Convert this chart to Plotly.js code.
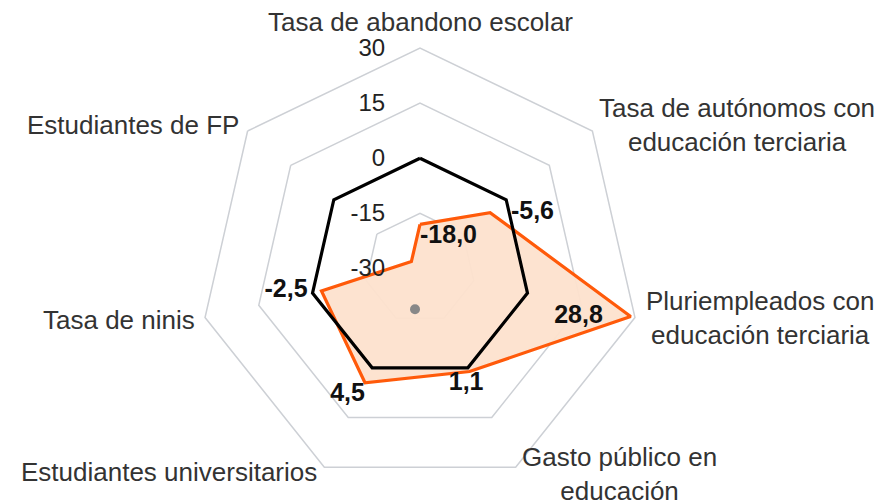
<!DOCTYPE html>
<html>
<head>
<meta charset="utf-8">
<script src="https://cdn.plot.ly/plotly-3.0.1.min.js"></script>
<style>html,body{margin:0;padding:0;background:#fff;}#chart{width:889px;height:500px;}</style>
</head>
<body>
<div id="chart"></div>
<script>
// ---- data ----
var categories = [
  'Tasa de abandono escolar',
  'Tasa de autónomos con<br>educación terciaria',
  'Pluriempleados con<br>educación terciaria',
  'Gasto público en<br>educación',
  'Estudiantes universitarios',
  'Tasa de ninis',
  'Estudiantes de FP'
];
var values = [-18.0, -5.6, 28.8, 1.1, 4.5, -2.5, -27.0];
var valueLabels = ['-18,0', '-5,6', '28,8', '1,1', '4,5', '-2,5', ''];
var reference = [0, 0, 0, 0, 0, 0, 0];
var radialTicks = [-30, -15, 0, 15, 30];
var radialTickText = ['-30', '-15', '0', '15', '30'];
var RMIN = -30, RMAX = 30;

// ---- style ----
var FONT = 'Liberation Sans, Arial, Helvetica, sans-serif';
var GRID = '#cdd0d5';
var W = 889, H = 500;
var M = { l: 0, r: 49, t: 48, b: 11 };
var textPos = ['bottom right', 'middle right', 'middle left', 'bottom center', 'bottom left', 'middle left', 'top center'];
var NB = '\u00a0';
var padLeft = [0, 3, 0, 0, 0, 0, 0];
var padRight = [0, 0, 4, 1, 0, 2, 0];
// category label placement relative to the outer vertex (pixels)
var catDx = [0, 5, 9, 4, -5, -8, -7];
var catDy = [-26, -6, 0, 7, 5, 2, -6];
var catAnchor = ['center', 'left', 'left', 'left', 'right', 'right', 'right'];

// radial axis is offset so that it starts at zero (avoids hidden texts with negative radii)
function toR(v) { return v - RMIN; }
function close(a) { return a.concat([a[0]]); }
function rep(s, n) { var o = ''; for (var i = 0; i < n; i++) o += s; return o; }
var labelText = valueLabels.map(function (t, i) { return t ? rep(NB, padLeft[i]) + t + rep(NB, padRight[i]) : ''; });

var traces = [
  {
    type: 'scatterpolar',
    mode: 'lines',
    r: close(values.map(toR)),
    theta: close(categories),
    fill: 'toself',
    fillcolor: 'rgba(253,226,206,0.95)',
    line: { color: '#ff5a0a', width: 3.2 },
    hoverinfo: 'skip',
    showlegend: false
  },
  {
    type: 'scatterpolar',
    mode: 'lines',
    r: close(reference.map(toR)),
    theta: close(categories),
    line: { color: '#000000', width: 3.2 },
    hoverinfo: 'skip',
    showlegend: false
  },
  {
    type: 'scatterpolar',
    mode: 'text',
    r: values.map(toR),
    theta: categories,
    text: labelText,
    textposition: textPos,
    textfont: { family: FONT, size: 25, color: '#111', weight: 'bold' },
    hoverinfo: 'skip',
    showlegend: false
  }
];

// geometry of the polar subplot (full domain) for placing category labels
var pw = W - M.l - M.r, ph = H - M.t - M.b;
var R = Math.min(pw, ph) / 2;
var cx = M.l + pw / 2, cy = M.t + ph / 2;
var annotations = categories.map(function (c, i) {
  var a = i * 2 * Math.PI / categories.length;
  var px = cx + R * Math.sin(a) + catDx[i];
  var py = cy - R * Math.cos(a) + catDy[i];
  return {
    text: c,
    xref: 'paper', yref: 'paper',
    x: (px - M.l) / pw, y: 1 - (py - M.t) / ph,
    xanchor: catAnchor[i], yanchor: 'middle',
    align: 'center',
    showarrow: false,
    font: { family: FONT, size: 26, color: '#333' }
  };
});

var layout = {
  width: W,
  height: H,
  paper_bgcolor: '#ffffff',
  plot_bgcolor: '#ffffff',
  margin: M,
  showlegend: false,
  font: { family: FONT, color: '#333' },
  annotations: annotations,
  polar: {
    bgcolor: '#ffffff',
    gridshape: 'linear',
    domain: { x: [0, 1], y: [0, 1] },
    radialaxis: {
      range: [toR(RMIN), toR(RMAX)],
      tickvals: radialTicks.map(toR),
      ticktext: radialTickText,
      angle: 90,
      tickangle: 90,
      side: 'counterclockwise',
      showline: false,
      ticks: 'outside',
      ticklen: 26,
      tickcolor: 'rgba(0,0,0,0)',
      gridcolor: GRID,
      gridwidth: 1.5,
      tickfont: { family: FONT, size: 24, color: '#222' }
    },
    angularaxis: {
      rotation: 90,
      direction: 'clockwise',
      showgrid: false,
      showline: true,
      linecolor: GRID,
      linewidth: 1.5,
      ticks: '',
      showticklabels: false
    }
  },
  shapes: [{
    type: 'circle',
    xref: 'paper', yref: 'paper',
    xsizemode: 'pixel', ysizemode: 'pixel',
    xanchor: (415 - M.l) / pw, yanchor: 1 - (309.3 - M.t) / ph,
    x0: -5, x1: 5, y0: -5, y1: 5,
    fillcolor: '#888888',
    line: { width: 0 }
  }]
};

Plotly.newPlot('chart', traces, layout, { displayModeBar: false, staticPlot: true });
</script>
</body>
</html>
